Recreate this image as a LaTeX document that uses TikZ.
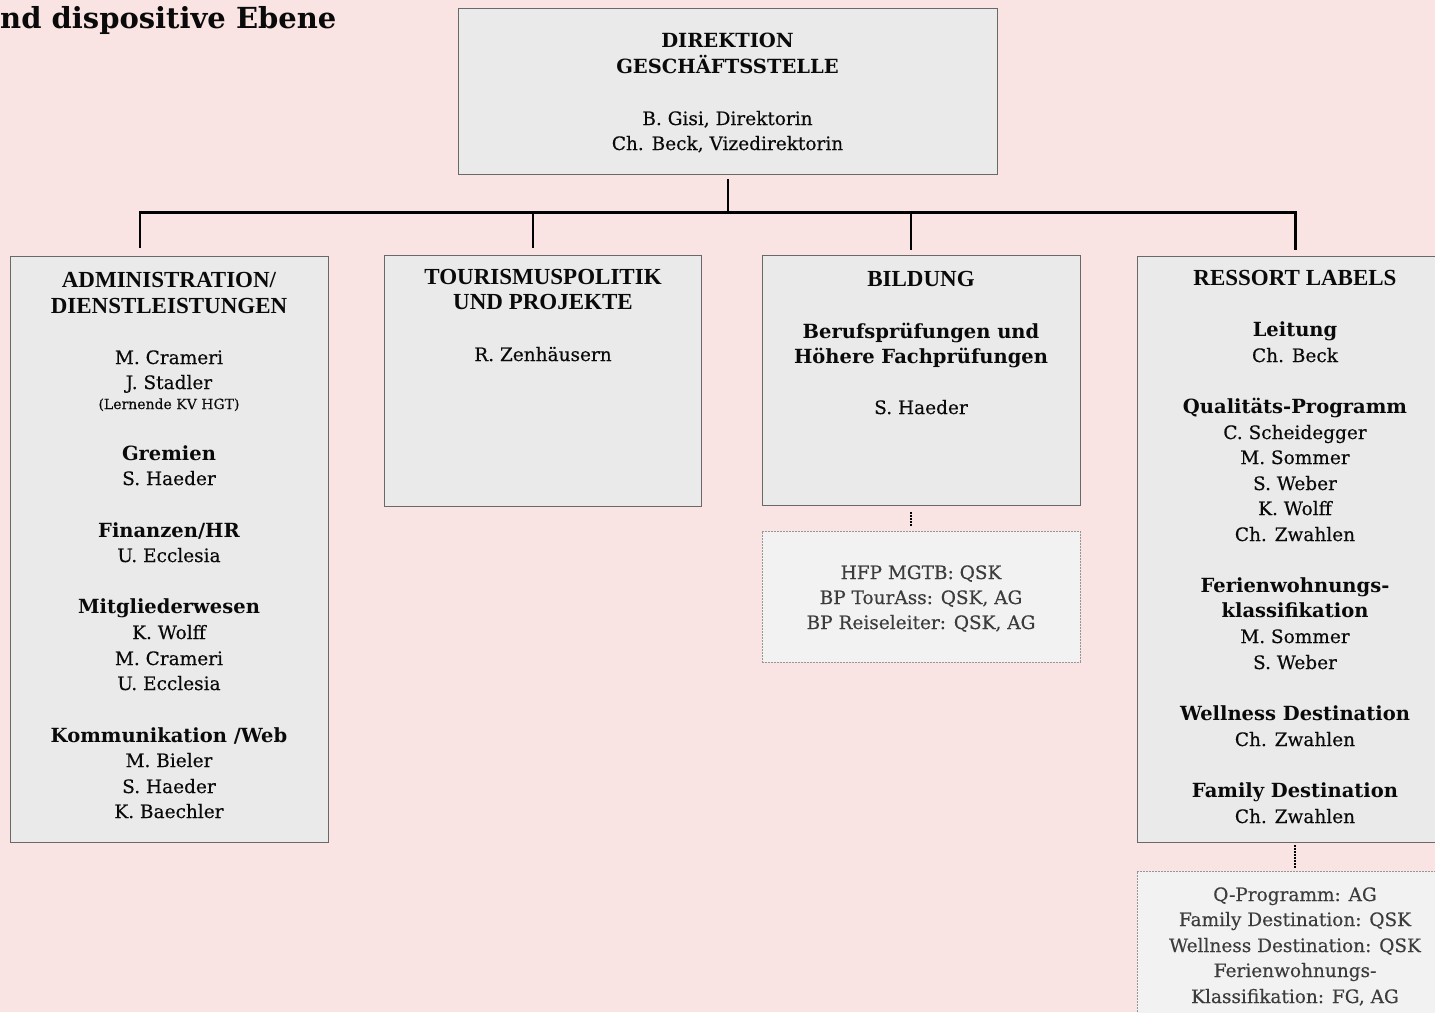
\documentclass[tikz,border=0pt]{standalone}
\usepackage{fontspec}
\setmainfont{DejaVu Serif}
\newfontfamily\bodyfont{DejaVu Serif}[FakeBold=0.35]
\newfontfamily\hdfont{Liberation Serif}
\definecolor{bgpink}{RGB}{249,227,227}
\definecolor{boxfill}{RGB}{234,234,234}
\definecolor{boxline}{RGB}{105,105,105}
\definecolor{notefill}{RGB}{242,242,242}
\definecolor{noteline}{RGB}{150,150,150}
\definecolor{notetext}{RGB}{60,60,60}
\definecolor{ink}{RGB}{10,10,10}
\tikzset{
  box/.style={draw=boxline, fill=boxfill, line width=1pt, inner sep=0pt, anchor=north west},
  notebox/.style={draw=noteline, fill=notefill, line width=0.9pt, dash pattern=on 2pt off 1pt, inner sep=0pt, anchor=north west},
  bodytxt/.style={anchor=base, inner sep=0pt, text=ink, font=\bodyfont\fontsize{18.5}{22}\selectfont},
  subtxt/.style={anchor=base, inner sep=0pt, text=ink, font=\bfseries\fontsize{19.5}{23}\selectfont},
  hdtxt/.style={anchor=base, inner sep=0pt, text=ink, font=\hdfont\bfseries\fontsize{23}{26}\selectfont},
  smalltxt/.style={anchor=base, inner sep=0pt, text=ink, font=\bodyfont\fontsize{14}{17}\selectfont},
  notetxt/.style={anchor=base, inner sep=0pt, text=notetext, font=\bodyfont\fontsize{18.5}{22}\selectfont},
  conn/.style={draw=black, line width=2pt},
  busline/.style={draw=black, line width=3pt, line cap=rect},
  dotconn/.style={draw=black, line width=2pt, dash pattern=on 1.5pt off 1.5pt},
}
\begin{document}
\begin{tikzpicture}[x=1pt,y=-1pt]
\useasboundingbox (0,0) rectangle (1435,1012);
\clip (0,0) rectangle (1435,1012);
\fill[bgpink] (0,0) rectangle (1435,1012);

% title
\node[anchor=base west, inner sep=0pt, text=ink, font=\bfseries\fontsize{29}{32}\selectfont] (title) at (0,28) {nd dispositive Ebene};

% boxes
\node[box, minimum width=539pt, minimum height=166pt] (dir) at (458,8) {};
\node[box, minimum width=318pt, minimum height=586pt] (adm) at (10,256) {};
\node[box, minimum width=317pt, minimum height=251pt] (pol) at (384,255) {};
\node[box, minimum width=318pt, minimum height=250pt] (bil) at (762,255) {};
\node[box, minimum width=318pt, minimum height=586pt] (lab) at (1137,256) {};
\node[notebox, minimum width=318pt, minimum height=131pt] (bnote) at (762,531) {};
\node[notebox, minimum width=318pt, minimum height=170pt] (lnote) at (1137,871) {};

% connectors
\coordinate (busM) at (728,212);
\coordinate (busL) at (140,212);
\coordinate (busB) at (533,212);
\coordinate (busC) at (911,212);
\coordinate (busR) at (1295,212);
\draw[conn, shorten <=4pt] (dir.south) -- (busM);
\draw[busline] (busL) -- (busR);
\draw[conn, shorten >=8pt] (busL) -- (busL |- adm.north);
\draw[conn, shorten >=7pt] (busB) -- (busB |- pol.north);
\draw[conn, shorten >=5pt] (busC) -- (busC |- bil.north);
\draw[busline, line cap=butt, shorten >=6pt] (busR) -- (busR |- lab.north);
\coordinate (bd) at (911,505);
\draw[dotconn, shorten <=7pt, shorten >=5pt] (bd) -- (bd |- bnote.north);
\coordinate (ld) at (1295,842);
\draw[dotconn, shorten <=3pt, shorten >=2pt] (ld) -- (ld |- lnote.north);

% Direktion text
\node[subtxt] (d1) at (727.5,47) {DIREKTION};
\node[subtxt] (d2) at (727.5,73) {GESCHÄFTSSTELLE};
\node[bodytxt] (d3) at (727.5,125) {B. Gisi, Direktorin};
\node[bodytxt] (d4) at (727.5,150) {Ch. Beck, Vizedirektorin};

% Administration
\node[hdtxt] (a1) at (169,287) {ADMINISTRATION/};
\node[hdtxt] (a2) at (169,313) {DIENSTLEISTUNGEN};
\node[bodytxt] (a3) at (169,364) {M. Crameri};
\node[bodytxt] (a4) at (169,389) {J. Stadler};
\node[smalltxt] (a5) at (169,409) {(Lernende KV HGT)};
\node[subtxt] (a6) at (169,460) {Gremien};
\node[bodytxt] (a7) at (169,485) {S. Haeder};
\node[subtxt] (a8) at (169,537) {Finanzen/HR};
\node[bodytxt] (a9) at (169,562) {U. Ecclesia};
\node[subtxt] (a10) at (169,613) {Mitgliederwesen};
\node[bodytxt] (a11) at (169,639) {K. Wolff};
\node[bodytxt] (a12) at (169,665) {M. Crameri};
\node[bodytxt] (a13) at (169,690) {U. Ecclesia};
\node[subtxt] (a14) at (169,742) {Kommunikation /Web};
\node[bodytxt] (a15) at (169,767) {M. Bieler};
\node[bodytxt] (a16) at (169,793) {S. Haeder};
\node[bodytxt] (a17) at (169,818) {K. Baechler};

% Tourismuspolitik
\node[hdtxt] (p1) at (543,284) {TOURISMUSPOLITIK};
\node[hdtxt] (p2) at (543,309) {UND PROJEKTE};
\node[bodytxt] (p3) at (543,361) {R. Zenhäusern};

% Bildung
\node[hdtxt] (b1) at (921,286) {BILDUNG};
\node[subtxt] (b2) at (921,338) {Berufsprüfungen und};
\node[subtxt] (b3) at (921,363) {Höhere Fachprüfungen};
\node[bodytxt] (b4) at (921,414) {S. Haeder};
\node[notetxt] (n1) at (921,579) {HFP MGTB: QSK};
\node[notetxt] (n2) at (921,604) {BP TourAss: QSK, AG};
\node[notetxt] (n3) at (921,629) {BP Reiseleiter: QSK, AG};

% Ressort Labels
\node[hdtxt] (r1) at (1295,285) {RESSORT LABELS};
\node[subtxt] (r2) at (1295,336) {Leitung};
\node[bodytxt] (r3) at (1295,362) {Ch. Beck};
\node[subtxt] (r4) at (1295,413) {Qualitäts-Programm};
\node[bodytxt] (r5) at (1295,439) {C. Scheidegger};
\node[bodytxt] (r6) at (1295,464) {M. Sommer};
\node[bodytxt] (r7) at (1295,490) {S. Weber};
\node[bodytxt] (r8) at (1295,515) {K. Wolff};
\node[bodytxt] (r9) at (1295,541) {Ch. Zwahlen};
\node[subtxt] (r10) at (1295,592) {Ferienwohnungs-};
\node[subtxt] (r11) at (1295,617) {klassifikation};
\node[bodytxt] (r12) at (1295,643) {M. Sommer};
\node[bodytxt] (r13) at (1295,669) {S. Weber};
\node[subtxt] (r14) at (1295,720) {Wellness Destination};
\node[bodytxt] (r15) at (1295,746) {Ch. Zwahlen};
\node[subtxt] (r16) at (1295,797) {Family Destination};
\node[bodytxt] (r17) at (1295,823) {Ch. Zwahlen};
\node[notetxt] (m1) at (1295,901) {Q-Programm: AG};
\node[notetxt] (m2) at (1295,926) {Family Destination: QSK};
\node[notetxt] (m3) at (1295,952) {Wellness Destination: QSK};
\node[notetxt] (m4) at (1295,977) {Ferienwohnungs-};
\node[notetxt] (m5) at (1295,1003) {Klassifikation: FG, AG};
\end{tikzpicture}
\end{document}
